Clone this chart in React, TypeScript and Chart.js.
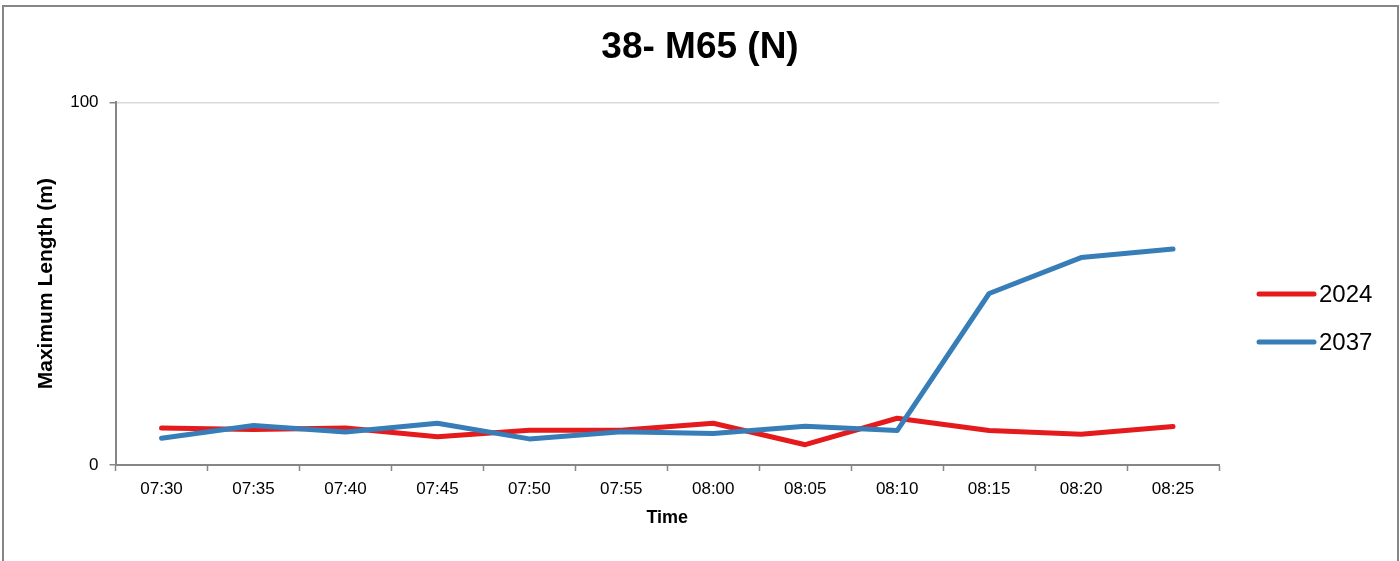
import React, { useEffect, useRef } from "react";
import { Chart, registerables } from "chart.js";

Chart.register(...registerables);

const timeLabels = ["07:30", "07:35", "07:40", "07:45", "07:50", "07:55", "08:00", "08:05", "08:10", "08:15", "08:20", "08:25"];
const series2024 = [10.2, 9.8, 10.2, 7.8, 9.6, 9.6, 11.5, 5.6, 12.9, 9.5, 8.5, 10.6];
const series2037 = [7.4, 10.9, 9.1, 11.5, 7.2, 9.2, 8.7, 10.7, 9.5, 47.3, 57.2, 59.6];
const seriesNames = ["2024", "2037"];
const seriesColors = ["#E41A1C", "#377EB8"];
const chartTitle = "38- M65 (N)";
const yTitle = "Maximum Length (m)";
const xTitle = "Time";

const FONT = "'Liberation Sans', Arial, sans-serif";

const legendPlugin = {
  id: "sideLegend",
  afterDraw(chart: any) {
    const ctx = chart.ctx;
    const area = chart.chartArea;
    const x0 = area.right + 40;
    const x1 = x0 + 55;
    const yStart = 294;
    const step = 48;
    ctx.save();
    chart.data.datasets.forEach((ds: any, i: number) => {
      const y = yStart + i * step;
      ctx.strokeStyle = ds.borderColor;
      ctx.lineWidth = 5;
      ctx.lineCap = "round";
      ctx.beginPath();
      ctx.moveTo(x0, y);
      ctx.lineTo(x1, y);
      ctx.stroke();
      ctx.fillStyle = "#000";
      ctx.font = `24px ${FONT}`;
      ctx.textBaseline = "middle";
      ctx.textAlign = "left";
      ctx.fillText(ds.label, x1 + 5, y + 1);
    });
    ctx.restore();
  },
};

export default function App() {
  const canvasRef = useRef<HTMLCanvasElement | null>(null);

  useEffect(() => {
    if (!canvasRef.current) return;
    const chart = new Chart(canvasRef.current, {
      type: "line",
      data: {
        labels: timeLabels,
        datasets: [
          {
            label: seriesNames[0],
            data: series2024,
            borderColor: seriesColors[0],
            backgroundColor: seriesColors[0],
            borderWidth: 5,
            pointRadius: 0,
            tension: 0,
            borderJoinStyle: "round",
            borderCapStyle: "round",
            order: 1,
          },
          {
            label: seriesNames[1],
            data: series2037,
            borderColor: seriesColors[1],
            backgroundColor: seriesColors[1],
            borderWidth: 5,
            pointRadius: 0,
            tension: 0,
            borderJoinStyle: "round",
            borderCapStyle: "round",
            order: 0,
          },
        ],
      },
      options: {
        responsive: false,
        animation: false,
        layout: { padding: { left: 0, right: 0, top: 0, bottom: 0 } },
        plugins: {
          legend: { display: false },
          tooltip: { enabled: false },
          title: {
            display: true,
            text: chartTitle,
            color: "#000",
            font: { family: FONT, size: 37, weight: "bold" },
            padding: { top: 26, bottom: 32 },
          },
        },
        scales: {
          x: {
            type: "category",
            offset: true,
            grid: {
              display: true,
              drawOnChartArea: false,
              offset: true,
              tickLength: 6,
              tickColor: "#868686",
              tickWidth: 1.5,
            },
            border: { display: true, color: "#868686", width: 2 },
            ticks: {
              color: "#000",
              font: { family: FONT, size: 17 },
              padding: 8,
              maxRotation: 0,
              autoSkip: false,
            },
            title: {
              display: true,
              text: xTitle,
              color: "#000",
              font: { family: FONT, size: 18, weight: "bold" },
              padding: { top: 0, bottom: 32 },
            },
          },
          y: {
            min: 0,
            max: 100,
            ticks: {
              stepSize: 100,
              color: "#000",
              font: { family: FONT, size: 17 },
              padding: 11,
            },
            grid: {
              color: (c: any) => (c.tick && c.tick.value === 0 ? "rgba(0,0,0,0)" : "#d9d9d9"),
              lineWidth: 1.5,
              tickLength: 6,
              tickColor: "#868686",
              drawTicks: true,
            },
            border: { display: true, color: "#868686", width: 2 },
            title: {
              display: true,
              text: yTitle,
              color: "#000",
              font: { family: FONT, size: 21, weight: "bold" },
              padding: { top: 34, bottom: 0 },
            },
          },
          legendSpace: {
            position: "right",
            display: true,
            grid: { display: false, drawTicks: false },
            border: { display: false },
            ticks: { display: false },
            afterFit: (scale: any) => {
              scale.width = 181;
            },
          },
        },
      },
      plugins: [legendPlugin],
    });
    return () => chart.destroy();
  }, []);

  return (
    <div style={{ position: "absolute", left: 0, top: 0, width: 1400, height: 561, overflow: "hidden", background: "#fff" }}>
      <canvas ref={canvasRef} width={1400} height={561} style={{ position: "absolute", left: 0, top: 0, width: 1400, height: 561 }} />
      <div
        style={{
          position: "absolute",
          left: 2,
          top: 5,
          width: 1397,
          height: 556,
          boxSizing: "border-box",
          borderLeft: "2px solid #868686",
          borderTop: "2px solid #868686",
          borderRight: "2px solid #868686",
          pointerEvents: "none",
        }}
      />
    </div>
  );
}
